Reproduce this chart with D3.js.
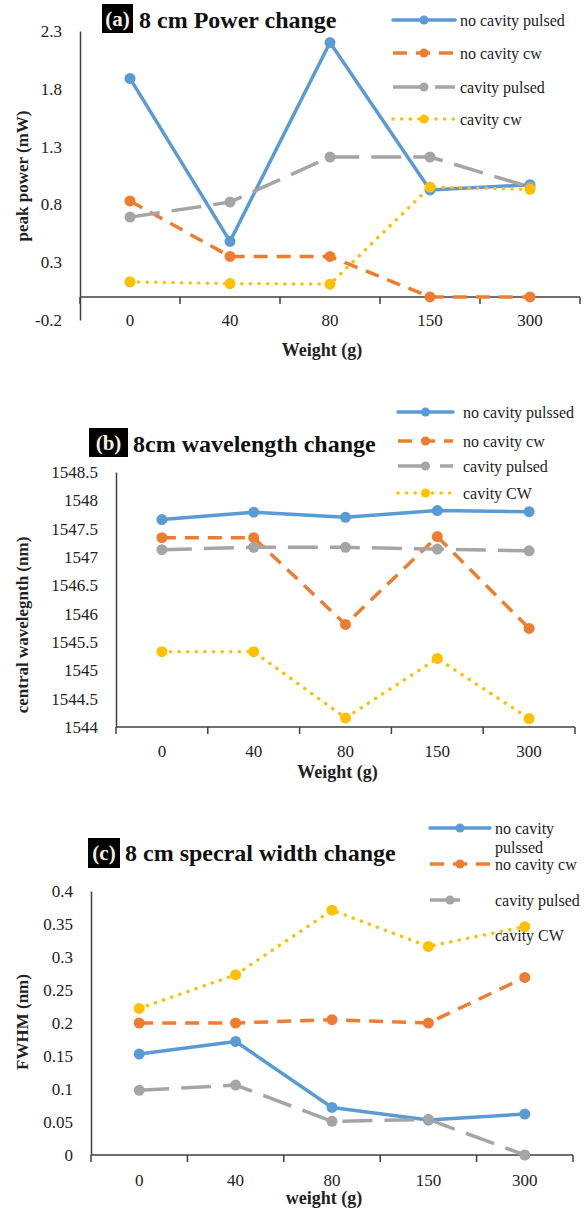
<!DOCTYPE html>
<html>
<head>
<meta charset="utf-8">
<script src="https://cdn.jsdelivr.net/npm/d3@7.9.0/dist/d3.min.js"></script>
<style>
  body { margin: 0; background: #fff; }
  svg text { font-family: "Liberation Serif", "DejaVu Serif", serif !important; fill: #222; }
</style>
</head>
<body>
<svg id="chart" width="584" height="1211"></svg>
<script>
const weights = ["0", "40", "80", "150", "300"];
const seriesNames = ["no cavity pulsed", "no cavity cw", "cavity pulsed", "cavity cw"];
const seriesNamesB = ["no cavity pulssed", "no cavity cw", "cavity pulsed", "cavity CW"];
const seriesNamesC = ["no cavity\npulssed", "no cavity cw", "cavity pulsed", "cavity CW"];

// (a) peak power (mW)
const powerNoCavPulsed = [1.89, 0.48, 2.2, 0.925, 0.97];
const powerNoCavCw     = [0.83, 0.35, 0.35, 0.0, 0.0];
const powerCavPulsed   = [0.69, 0.82, 1.21, 1.21, 0.95];
const powerCavCw       = [0.13, 0.115, 0.11, 0.95, 0.93];
const powerTicks = [-0.2, 0.3, 0.8, 1.3, 1.8, 2.3];

// (b) central wavelength (nm)
const waveNoCavPulsed = [1547.66, 1547.79, 1547.70, 1547.82, 1547.80];
const waveNoCavCw     = [1547.34, 1547.34, 1545.81, 1547.36, 1545.74];
const waveCavPulsed   = [1547.13, 1547.17, 1547.17, 1547.14, 1547.11];
const waveCavCw       = [1545.33, 1545.33, 1544.16, 1545.21, 1544.15];
const waveTicks = [1544, 1544.5, 1545, 1545.5, 1546, 1546.5, 1547, 1547.5, 1548, 1548.5];

// (c) FWHM (nm)
const fwhmNoCavPulsed = [0.153, 0.172, 0.072, 0.053, 0.062];
const fwhmNoCavCw     = [0.2, 0.2, 0.205, 0.2, 0.269];
const fwhmCavPulsed   = [0.098, 0.106, 0.051, 0.054, 0.0];
const fwhmCavCw       = [0.222, 0.273, 0.371, 0.316, 0.346];
const fwhmTicks = [0, 0.05, 0.1, 0.15, 0.2, 0.25, 0.3, 0.35, 0.4];

const styles = [
  { color: "#5B9BD5", dash: null, cap: "round" },
  { color: "#ED7D31", dash: "14,9", cap: "butt" },
  { color: "#A5A5A5", dash: "30,12", cap: "butt" },
  { color: "#FFC000", dash: "0.1,8.5", cap: "round" }
];

const SERIF = '"Liberation Serif", "DejaVu Serif", serif';
const svg = d3.select("#chart");

function drawPanel(p) {
  const g = svg.append("g").style("font-family", SERIF);
  const x = d3.scaleBand().domain(weights).range([p.left, p.right]).padding(0);
  const y = d3.scaleLinear().domain(p.domain).range([p.bottom, p.top]);
  const cx = d => x(d) + x.bandwidth() / 2;

  // y axis
  g.append("g")
    .attr("transform", `translate(${p.left},0)`)
    .call(d3.axisLeft(y).tickValues(p.ticks).tickSize(0).tickPadding(18).tickFormat(d => String(d)))
    .attr("font-family", null)
    .call(a => a.select(".domain").attr("stroke", "#404040").attr("stroke-width", 1.5))
    .call(a => a.selectAll("text").attr("font-size", 17).style("font-family", SERIF).attr("fill", "#333"));

  // x axis line at the crossing value
  const axisY = y(p.cross);
  g.append("line")
    .attr("x1", p.left).attr("x2", p.right)
    .attr("y1", axisY).attr("y2", axisY)
    .attr("stroke", "#404040").attr("stroke-width", 1.5);
  const tickPos = weights.map(d => x(d)).concat([x.range()[1]]);
  g.selectAll(".tk").data(tickPos).join("line")
    .attr("x1", d => d).attr("x2", d => d)
    .attr("y1", axisY).attr("y2", axisY + 7)
    .attr("stroke", "#404040").attr("stroke-width", 1.5);

  // category labels
  g.append("g")
    .attr("transform", `translate(0,${p.labelY})`)
    .call(d3.axisBottom(x).tickSize(0).tickPadding(0))
    .attr("font-family", null)
    .call(a => a.select(".domain").remove())
    .call(a => a.selectAll("text").attr("font-size", 17).style("font-family", SERIF).attr("dy", "0.35em").attr("fill", "#333"));

  // axis titles
  g.append("text")
    .attr("x", (p.left + p.right) / 2 - 8).attr("y", p.xTitleY)
    .attr("text-anchor", "middle").attr("dy", "0.35em")
    .attr("font-size", 18).attr("font-weight", "bold")
    .text(p.xTitle);
  g.append("text")
    .attr("transform", `translate(22,${p.yTitleY}) rotate(-90)`)
    .attr("text-anchor", "middle").attr("dy", "0.35em")
    .attr("font-size", 17).attr("font-weight", "bold")
    .text(p.yTitle);

  // title with boxed label
  g.append("rect")
    .attr("x", p.boxX).attr("y", p.boxY).attr("width", p.boxW).attr("height", p.boxH)
    .attr("fill", "#000");
  g.append("text")
    .attr("x", p.boxX + p.boxW / 2).attr("y", p.boxY + p.boxH / 2)
    .attr("text-anchor", "middle").attr("dy", "0.35em")
    .attr("font-size", 21).attr("font-weight", "bold")
    .style("fill", "#f4f0e0")
    .text(p.tag);
  g.append("text")
    .attr("x", p.titleX).attr("y", p.titleBase)
    .attr("font-size", 24).attr("font-weight", "bold")
    .style("fill", "#111")
    .text(p.title);

  // series
  const line = d3.line().x((d, i) => cx(weights[i])).y(d => y(d));
  p.series.forEach((vals, si) => {
    const s = styles[si];
    g.append("path")
      .attr("d", line(vals))
      .attr("fill", "none")
      .attr("stroke", s.color)
      .attr("stroke-width", 3.5)
      .attr("stroke-linecap", s.cap)
      .attr("stroke-linejoin", "round")
      .attr("stroke-dasharray", s.dash);
    g.selectAll(null).data(vals).join("circle")
      .attr("cx", (d, i) => cx(weights[i]))
      .attr("cy", d => y(d))
      .attr("r", 5.5)
      .attr("fill", s.color);
  });

  // legend
  const lg = g.append("g");
  p.names.forEach((name, i) => {
    const ry = p.legRows[i];
    const s = styles[i];
    if (!(p.skipLegendLine && p.skipLegendLine === i + 1)) {
      const x1 = p.legX1, x2 = i === 2 && p.shortGray ? p.legX1 + 40 : p.legX2;
      lg.append("line")
        .attr("x1", x1).attr("x2", x2).attr("y1", ry).attr("y2", ry)
        .attr("stroke", s.color).attr("stroke-width", 3.5)
        .attr("stroke-linecap", s.cap)
        .attr("stroke-dasharray", s.dash);
      lg.append("circle")
        .attr("cx", (x1 + x2) / 2).attr("cy", ry).attr("r", 4.5).attr("fill", s.color);
    }
    const parts = name.split("\n");
    parts.forEach((t, k) => {
      lg.append("text")
        .attr("x", p.legTextX).attr("y", ry + k * 19)
        .attr("dy", "0.35em").attr("font-size", 16)
        .text(t);
    });
  });
}

drawPanel({
  left: 80, right: 580, top: 31, bottom: 320,
  domain: [-0.2, 2.3], ticks: powerTicks, cross: 0,
  labelY: 320, xTitle: "Weight (g)", xTitleY: 350,
  yTitle: "peak power (mW)", yTitleY: 176,
  tag: "(a)", boxX: 102, boxY: 4, boxW: 31, boxH: 29,
  title: "8 cm Power  change", titleX: 139, titleBase: 28,
  series: [powerNoCavPulsed, powerNoCavCw, powerCavPulsed, powerCavCw],
  names: seriesNames, legRows: [20, 53, 87, 119],
  legX1: 393, legX2: 455, legTextX: 460
});

drawPanel({
  left: 116, right: 575, top: 472, bottom: 727,
  domain: [1544, 1548.5], ticks: waveTicks, cross: 1544,
  labelY: 751, xTitle: "Weight (g)", xTitleY: 772,
  yTitle: "central wavelegnth (nm)", yTitleY: 625,
  tag: "(b)", boxX: 89, boxY: 428, boxW: 39, boxH: 29,
  title: "8cm wavelength change", titleX: 133, titleBase: 452,
  series: [waveNoCavPulsed, waveNoCavCw, waveCavPulsed, waveCavCw],
  names: seriesNamesB, legRows: [412, 441, 466, 493],
  legX1: 398, legX2: 453, legTextX: 463
});

drawPanel({
  left: 91, right: 573, top: 891, bottom: 1155,
  domain: [0, 0.4], ticks: fwhmTicks, cross: 0,
  labelY: 1180, xTitle: "weight (g)", xTitleY: 1198,
  yTitle: "FWHM  (nm)", yTitleY: 1022,
  tag: "(c)", boxX: 88, boxY: 838, boxW: 32, boxH: 30,
  title: "8 cm specral width  change", titleX: 125, titleBase: 861,
  series: [fwhmNoCavPulsed, fwhmNoCavCw, fwhmCavPulsed, fwhmCavCw],
  names: seriesNamesC, legRows: [828, 864, 900, 935],
  legX1: 430, legX2: 490, legTextX: 495, skipLegendLine: 4, shortGray: true
});
</script>
</body>
</html>
